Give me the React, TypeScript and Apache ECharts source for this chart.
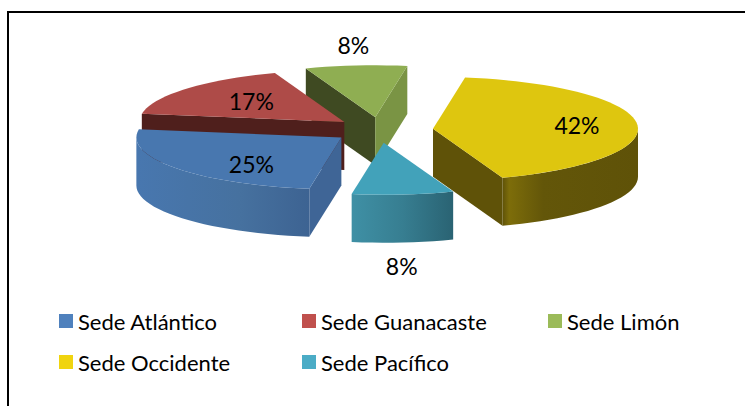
import React, { useEffect, useRef } from "react";
import * as echarts from "echarts";

// ---- data ----
const categories = ["Sede Atlántico", "Sede Guanacaste", "Sede Limón", "Sede Occidente", "Sede Pacífico"];
const shares = [25, 17, 8, 42, 8];

// ---- layout ----
const START_ANGLE = 189; // clockwise from 12 o'clock
const CX = 384;
const CY = 130;
const RX = 205;
const RY = 52;
const EXPLODE = 0.245;
const DEPTH = 48;
const DEG = Math.PI / 180;
const LABEL_FONT = "Lato, Carlito, Calibri, sans-serif";

type Look = {
  color: string;
  top: string;
  startFace: string;
  endFace: string;
  side: [number, string][];
  labelDx: number;
  labelDy: number;
  nudge: number;
};

const looks: Look[] = [
  {
    color: "#4F81BD", top: "#4877AF", startFace: "#3F6596", endFace: "#3F6596",
    side: [[0, "#4877AF"], [0.6, "#46719F"], [1, "#3D6392"]], labelDx: -90, labelDy: 27, nudge: -2,
  },
  {
    color: "#C0504D", top: "#AE4B48", startFace: "#4F1F1C", endFace: "#4F1F1C",
    side: [[0, "#4F1F1C"], [1, "#4F1F1C"]], labelDx: -93, labelDy: -21, nudge: -1,
  },
  {
    color: "#9BBB59", top: "#8FAE52", startFace: "#3F4A22", endFace: "#7A9444",
    side: [[0, "#7A9444"], [1, "#7A9444"]], labelDx: -22, labelDy: -72, nudge: -4,
  },
  {
    color: "#F0D40F", top: "#DEC60F", startFace: "#5F5208", endFace: "#5F5208",
    side: [[0, "#5F5208"], [0.05, "#7D6D0A"], [0.3, "#635609"], [1, "#5F5208"]], labelDx: 144, labelDy: -4, nudge: -1,
  },
  {
    color: "#4BACC6", top: "#42A2BA", startFace: "#2A6373", endFace: "#2A6373",
    side: [[0, "#3F90A5"], [0.5, "#377E91"], [1, "#2A6373"]], labelDx: 18, labelDy: 123, nudge: -5,
  },
];

// painter's order: from back to front
const drawOrder = [2, 1, 3, 0, 4];

const total = shares.reduce((a, b) => a + b, 0);
const spans = shares.map((value, i) => {
  const before = shares.slice(0, i).reduce((a, b) => a + b, 0);
  return {
    a: START_ANGLE + (before / total) * 360,
    b: START_ANGLE + ((before + value) / total) * 360,
  };
});

const onRim = (deg: number, ox: number, oy: number): [number, number] => [
  ox + RX * Math.sin(deg * DEG),
  oy - RY * Math.cos(deg * DEG),
];

const arcPoints = (from: number, to: number, ox: number, oy: number) => {
  const out: [number, number][] = [];
  const steps = Math.max(2, Math.ceil((to - from) / 3));
  for (let k = 0; k <= steps; k++) out.push(onRim(from + ((to - from) * k) / steps, ox, oy));
  return out;
};

const drop = (pts: [number, number][]) => pts.map(([x, y]) => [x, y + DEPTH] as [number, number]);

const facePolygon = (points: [number, number][], fill: any) => ({
  type: "polygon",
  shape: { points },
  style: { fill, stroke: "none" },
});

const renderSlice = (index: number) => () => {
  const { a, b } = spans[index];
  const look = looks[index];
  const mid = ((a + b) / 2) * DEG;
  const ox = CX + RX * EXPLODE * Math.sin(mid) + look.nudge;
  const oy = CY - RY * EXPLODE * Math.cos(mid);
  const apex: [number, number] = [ox, oy];
  const children: any[] = [];

  const radial = (deg: number, fill: string) => {
    const rim = onRim(deg, ox, oy);
    return facePolygon([apex, rim, [rim[0], rim[1] + DEPTH], [ox, oy + DEPTH]], fill);
  };

  // Outer wall: only the stretches on the front half of the rim show.
  const wall = (from: number, to: number) => {
    if (to <= from) return;
    const upper = arcPoints(from, to, ox, oy);
    const reversed = from < 180 && to <= 180;
    children.push(
      facePolygon([...upper, ...drop(upper).reverse()], {
        type: "linear", x: reversed ? 1 : 0, y: 0, x2: reversed ? 0 : 1, y2: 0,
        colorStops: look.side.map(([offset, color]) => ({ offset, color })),
      }),
    );
  };

  // Cut faces that look towards the viewer.
  if (Math.sin(a * DEG) < 0) children.push(radial(a, look.startFace));
  if (Math.sin(b * DEG) > 0) children.push(radial(b, look.endFace));
  wall(Math.max(a, 90), Math.min(b, 270));
  wall(Math.max(a, 450), Math.min(b, 630));

  // Top surface.
  children.push(facePolygon([apex, ...arcPoints(a, b, ox, oy)], look.top));

  // Percentage label.
  children.push({
    type: "text",
    x: ox + look.labelDx,
    y: oy + look.labelDy,
    z2: 100,
    style: {
      text: `${Math.round((shares[index] / total) * 100)}%`,
      fill: "#000",
      font: `23px ${LABEL_FONT}`,
      align: "center",
      verticalAlign: "middle",
    },
  });

  return { type: "group", children };
};

const legendBase = {
  orient: "vertical" as const,
  top: 310,
  icon: "rect",
  itemWidth: 14,
  itemHeight: 14,
  itemGap: 19,
  padding: 0,
  selectedMode: false,
  textStyle: { fontFamily: LABEL_FONT, fontSize: 22, lineHeight: 14, color: "#000" },
};

export default function App() {
  const ref = useRef<HTMLDivElement>(null);

  useEffect(() => {
    if (!ref.current) return;
    const chart = echarts.init(ref.current, undefined, { renderer: "svg" });
    chart.setOption({
      animation: false,
      backgroundColor: "#ffffff",
      legend: [
        { ...legendBase, left: 59, data: [categories[0], categories[3]] },
        { ...legendBase, left: 302, data: [categories[1], categories[4]] },
        { ...legendBase, left: 548, data: [categories[2]] },
      ],
      series: drawOrder.map((i) => ({
        type: "custom",
        name: categories[i],
        coordinateSystem: "none",
        silent: true,
        itemStyle: { color: looks[i].color },
        data: [shares[i]],
        renderItem: renderSlice(i),
      })),
      graphic: [
        {
          type: "polyline",
          silent: true,
          shape: { points: [[8, 406], [8, 12], [745, 12]] },
          style: { fill: "none", stroke: "#000", lineWidth: 2 },
        },
      ],
    });
    return () => chart.dispose();
  }, []);

  return <div ref={ref} style={{ position: "absolute", left: 0, top: 0, width: 745, height: 406 }} />;
}
